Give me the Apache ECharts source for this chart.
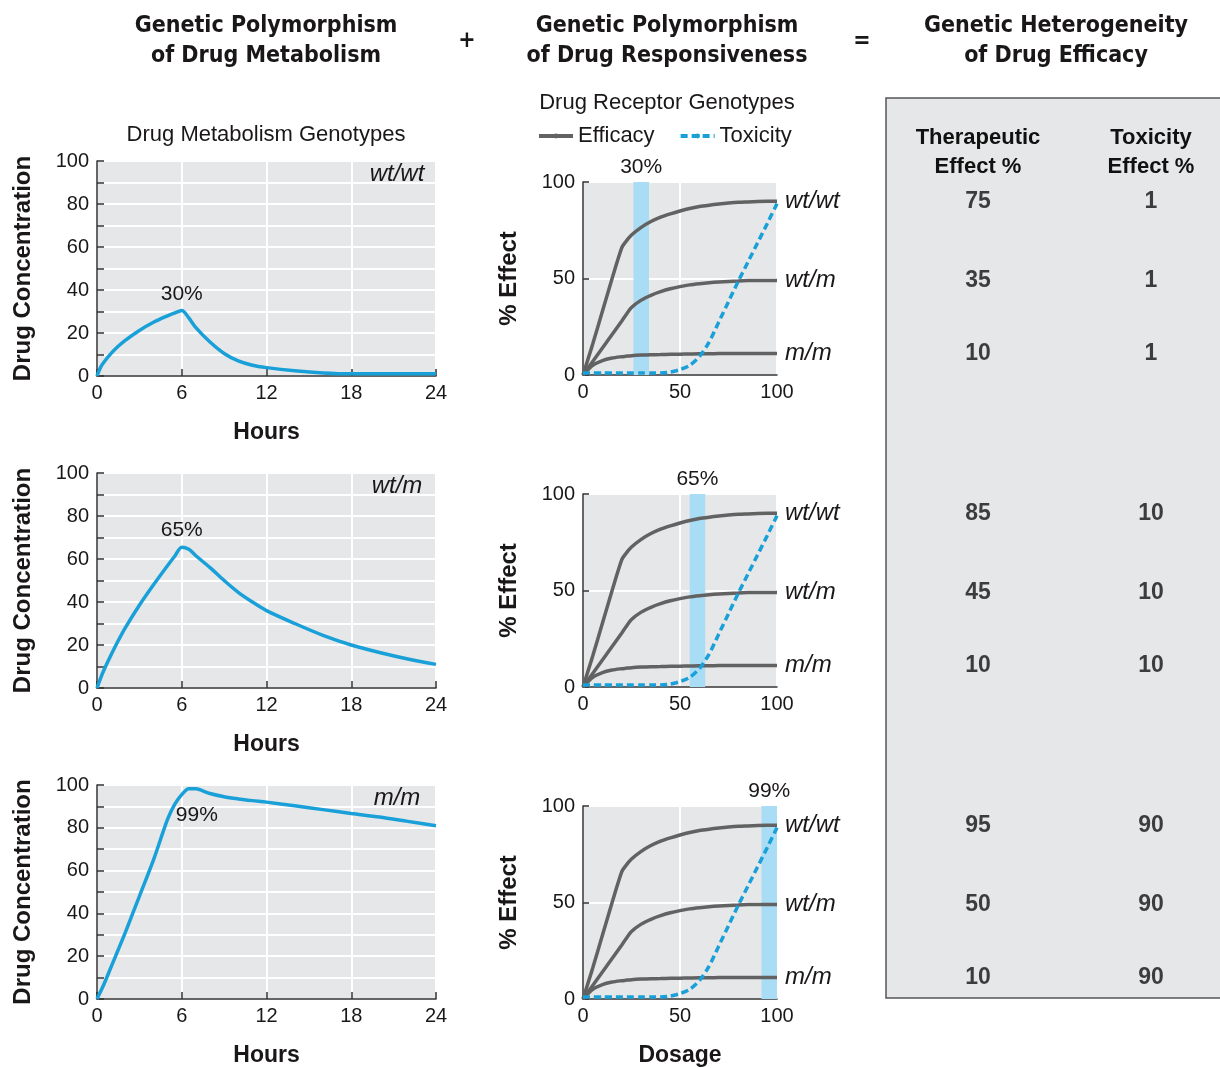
<!DOCTYPE html>
<html><head><meta charset="utf-8">
<script src="https://cdn.jsdelivr.net/npm/echarts@6/dist/echarts.min.js"></script>
<style>html,body{margin:0;padding:0;background:#fff}#c{width:1220px;height:1068px}</style>
</head><body><div id="c"></div>
<script>
// ---------- DATA ----------
const hours = [0, 0.25, 0.5, 1, 1.5, 2, 3, 4, 5, 5.5, 6, 6.5, 7, 8, 9, 10, 11, 12, 14, 16, 18, 20, 22, 24];
const concWtWt = [0, 4, 6.5, 10.5, 13.8, 16.6, 21.2, 25, 28, 29.3, 30.5, 27, 22.5, 15.8, 10.5, 7, 5, 3.9, 2.4, 1.4, 1, 1, 1, 1];
const concWtM  = [0, 4.5, 8.5, 15.5, 22, 28, 38.5, 48, 57, 61.3, 65.5, 64.5, 61.5, 56, 50, 44.5, 40, 36, 30, 24.5, 20, 16.5, 13.5, 11];
const concMM   = [0, 3.5, 7, 15, 23, 31, 48, 65, 84, 91, 95.5, 98.3, 98.2, 96, 94.5, 93.5, 92.7, 92, 90.3, 88.5, 86.7, 85, 83, 81];
const metabGenotypes = ['wt/wt', 'wt/m', 'm/m'];
const peakLabels = ['30%', '65%', '99%'];

const dosage   = [0, 5, 10, 15, 20, 22, 25, 30, 35, 40, 45, 50, 55, 60, 65, 70, 75, 80, 85, 90, 95, 100];
const effWtWt  = [0, 16, 33, 50, 66, 69, 72.5, 76.5, 79.5, 81.8, 83.5, 85, 86.3, 87.3, 88, 88.6, 89.1, 89.5, 89.7, 89.9, 90, 90];
const effWtM   = [0, 7, 14, 21, 28, 31, 35, 38.8, 41.3, 43.2, 44.7, 45.8, 46.7, 47.3, 47.8, 48.2, 48.5, 48.7, 48.9, 49, 49, 49];
const effMM    = [0, 5, 7.5, 8.8, 9.5, 9.7, 10, 10.3, 10.5, 10.6, 10.7, 10.8, 10.9, 11, 11, 11.1, 11.1, 11.1, 11.2, 11.2, 11.2, 11.2];
const toxicity = [1, 1, 1, 1, 1, 1, 1, 1, 1, 1, 1.5, 2.8, 5, 9.5, 17, 27.5, 38, 48.5, 58.5, 68.5, 78.5, 88.8];
const receptorGenotypes = ['wt/wt', 'wt/m', 'm/m'];
const bandRanges = [[26, 34], [55, 63], [92, 100]];
const bandLabels = ['30%', '65%', '99%'];

const tableHeaders = ['Therapeutic\nEffect %', 'Toxicity\nEffect %'];
const therapeutic = [[75, 35, 10], [85, 45, 10], [95, 50, 10]];
const toxicityPct = [[1, 1, 1], [10, 10, 10], [90, 90, 90]];

// ---------- STYLE / LAYOUT ----------
const FONT = "'Liberation Sans', Arial, sans-serif";
const HEAD_FONT = "'Liberation Sans Narrow', 'DejaVu Sans Condensed', 'Liberation Sans', sans-serif";
const TXT = '#1a1718';
const BLUE = '#1aa0d9';
const GRAY = '#626262';
const PLOT_BG = '#e6e7e8';
const BAND = '#a9dcf5';

const leftTops = [161, 473, 785];
const midTops = [182, 494, 806];

const grids = [], xAxes = [], yAxes = [], series = [];
const zip = (xs, ys) => xs.map((x, i) => [x, ys[i]]);
const concs = [concWtWt, concWtM, concMM];
const effs = [effWtWt, effWtM, effMM];

// left charts
for (let r = 0; r < 3; r++) {
  grids.push({ left: 97, top: leftTops[r], width: 339, height: 215, show: true, backgroundColor: PLOT_BG, borderWidth: 0 });
  const gi = grids.length - 1;
  xAxes.push({
    gridIndex: gi, type: 'value', min: 0, max: 24, interval: 6,
    name: 'Hours', nameLocation: 'middle', nameGap: 45,
    nameTextStyle: { fontFamily: FONT, fontWeight: 'bold', fontSize: 23, color: TXT },
    axisLine: { show: true, lineStyle: { color: '#333', width: 1.5 } },
    axisTick: { show: true, inside: true, length: 7, lineStyle: { color: '#333', width: 1.5 } },
    axisLabel: { fontFamily: FONT, fontSize: 20, color: TXT, margin: 7 },
    splitLine: { show: true, lineStyle: { color: '#fff', width: 2 } }
  });
  yAxes.push({
    gridIndex: gi, type: 'value', min: 0, max: 100, interval: 10,
    name: 'Drug Concentration', nameLocation: 'middle', nameGap: 62,
    nameTextStyle: { fontFamily: FONT, fontWeight: 'bold', fontSize: 24, color: TXT },
    axisLine: { show: true, lineStyle: { color: '#333', width: 1.5 } },
    axisTick: { show: true, inside: true, length: 7, lineStyle: { color: '#333', width: 1.5 } },
    axisLabel: { fontFamily: FONT, fontSize: 20, color: TXT, margin: 8, formatter: v => (v % 20 === 0 ? v : '') },
    splitLine: { show: true, lineStyle: { color: '#fff', width: 2 } }
  });
  const isLast = r === 2;
  series.push({
    type: 'line', xAxisIndex: gi, yAxisIndex: gi, data: zip(hours, concs[r]),
    symbol: 'none', smooth: 0.3, lineStyle: { color: BLUE, width: 3.5 }, itemStyle: { color: BLUE },
    silent: true, animation: false,
    markPoint: {
      symbol: 'circle', symbolSize: 0, silent: true, animation: false,
      data: [{ type: 'max' }],
      label: isLast
        ? { show: true, position: 'inside', offset: [8, 27], formatter: peakLabels[r], fontFamily: FONT, fontSize: 21, color: TXT }
        : { show: true, position: 'top', distance: 6, formatter: peakLabels[r], fontFamily: FONT, fontSize: 21, color: TXT }
    }
  });
}

// middle charts
for (let r = 0; r < 3; r++) {
  grids.push({ left: 583, top: midTops[r], width: 194, height: 193, show: true, backgroundColor: PLOT_BG, borderWidth: 0 });
  const gi = grids.length - 1;
  xAxes.push({
    gridIndex: gi, type: 'value', min: 0, max: 100, interval: 50,
    name: r === 2 ? 'Dosage' : '', nameLocation: 'middle', nameGap: 45,
    nameTextStyle: { fontFamily: FONT, fontWeight: 'bold', fontSize: 23, color: TXT },
    axisLine: { show: true, lineStyle: { color: '#333', width: 1.5 } },
    axisTick: { show: false },
    axisLabel: { fontFamily: FONT, fontSize: 20, color: TXT, margin: 7 },
    splitLine: { show: true, lineStyle: { color: '#fff', width: 2 } }
  });
  yAxes.push({
    gridIndex: gi, type: 'value', min: 0, max: 100, interval: 50,
    name: '% Effect', nameLocation: 'middle', nameGap: 62,
    nameTextStyle: { fontFamily: FONT, fontWeight: 'bold', fontSize: 24, color: TXT },
    axisLine: { show: true, lineStyle: { color: '#333', width: 1.5 } },
    axisTick: { show: true, inside: true, length: 6, lineStyle: { color: '#333', width: 1.5 } },
    axisLabel: { fontFamily: FONT, fontSize: 20, color: TXT, margin: 8 },
    splitLine: { show: true, lineStyle: { color: '#fff', width: 2 } }
  });
  for (let k = 0; k < 3; k++) {
    const s = {
      type: 'line', name: 'Efficacy', xAxisIndex: gi, yAxisIndex: gi, data: zip(dosage, effs[k]),
      symbol: 'none', showSymbol: false, smooth: 0.25, lineStyle: { color: GRAY, width: 3.5 }, itemStyle: { color: GRAY },
      silent: true, animation: false,
      endLabel: { show: true, formatter: () => receptorGenotypes[k], distance: 8,
        fontFamily: FONT, fontStyle: 'italic', fontSize: 24, color: TXT }
    };
    if (k === 0) {
      s.markArea = {
        silent: true, animation: false,
        itemStyle: { color: BAND },
        label: { show: true, position: 'top', distance: 4, fontFamily: FONT, fontSize: 21, color: TXT },
        data: [[{ xAxis: bandRanges[r][0], name: bandLabels[r] }, { xAxis: bandRanges[r][1] }]]
      };
    }
    series.push(s);
  }
  series.push({
    type: 'line', name: 'Toxicity', xAxisIndex: gi, yAxisIndex: gi, data: zip(dosage, toxicity),
    symbol: 'none', showSymbol: false, smooth: 0.25, lineStyle: { color: BLUE, width: 3.5, type: [7, 4] }, itemStyle: { color: BLUE },
    silent: true, animation: false, z: 3
  });
}

// right table (rows aligned with receptor curve ends)
const effEnd = effs.map(a => a[a.length - 1]);
for (let r = 0; r < 3; r++) {
  grids.push({ left: 978, top: midTops[r], width: 173, height: 193, show: false });
  const gi = grids.length - 1;
  xAxes.push({
    gridIndex: gi, type: 'category', data: tableHeaders, position: 'top', boundaryGap: false,
    axisLine: { show: false }, axisTick: { show: false }, splitLine: { show: false },
    axisLabel: { show: r === 0, margin: 1, fontFamily: FONT, fontWeight: 'bold', fontSize: 22, lineHeight: 29, color: '#111' }
  });
  yAxes.push({ gridIndex: gi, type: 'value', min: 0, max: 100, show: false });
  const pts = [];
  for (let k = 0; k < 3; k++) {
    pts.push([tableHeaders[0], effEnd[k], therapeutic[r][k]]);
    pts.push([tableHeaders[1], effEnd[k], toxicityPct[r][k]]);
  }
  series.push({
    type: 'scatter', xAxisIndex: gi, yAxisIndex: gi, data: pts, symbolSize: 0, silent: true, animation: false, z: 5,
    label: { show: true, position: 'inside', formatter: p => p.value[2], fontFamily: FONT, fontWeight: 'bold', fontSize: 23, color: '#111' }
  });
}

const headStyle = { fontFamily: HEAD_FONT, fontWeight: 'bold', fontSize: 23, fill: TXT, textAlign: 'center', textVerticalAlign: 'middle', lineHeight: 30 };
const graphic = [
  { type: 'rect', z: -10, shape: { x: 886, y: 98, width: 340, height: 900 }, style: { fill: PLOT_BG, stroke: '#555', lineWidth: 1.5 } },
  { type: 'text', x: 266, y: 41, style: Object.assign({ text: 'Genetic Polymorphism\nof Drug Metabolism' }, headStyle) },
  { type: 'text', x: 467, y: 41, style: Object.assign({}, headStyle, { text: '+' }) },
  { type: 'text', x: 667, y: 41, style: Object.assign({ text: 'Genetic Polymorphism\nof Drug Responsiveness' }, headStyle) },
  { type: 'text', x: 862, y: 41, style: Object.assign({}, headStyle, { text: '=' }) },
  { type: 'text', x: 1056, y: 41, style: Object.assign({ text: 'Genetic Heterogeneity\nof Drug Efficacy' }, headStyle) },
  { type: 'text', x: 266, y: 135, style: { text: 'Drug Metabolism Genotypes', fontFamily: FONT, fontSize: 22, fill: TXT, textAlign: 'center', textVerticalAlign: 'middle' } },
  { type: 'text', x: 667, y: 103, style: { text: 'Drug Receptor Genotypes', fontFamily: FONT, fontSize: 22, fill: TXT, textAlign: 'center', textVerticalAlign: 'middle' } }
];
for (let r = 0; r < 3; r++) {
  graphic.push({ type: 'text', x: 397, y: leftTops[r] + 13, style: { text: metabGenotypes[r], fontFamily: FONT, fontStyle: 'italic', fontSize: 24, fill: TXT, textAlign: 'center', textVerticalAlign: 'middle' } });
}

const chart = echarts.init(document.getElementById('c'), null, { renderer: 'canvas' });
chart.setOption({
  animation: false,
  backgroundColor: '#fff',
  textStyle: { fontFamily: FONT },
  legend: {
    left: 537, top: 125, padding: 0, selectedMode: false, data: ['Efficacy', 'Toxicity'],
    itemWidth: 34, itemHeight: 6, itemGap: 24,
    lineStyle: { width: 4 },
    textStyle: { fontFamily: FONT, fontSize: 22, color: TXT }
  },
  grid: grids, xAxis: xAxes, yAxis: yAxes, series: series, graphic: graphic
});
</script></body></html>
